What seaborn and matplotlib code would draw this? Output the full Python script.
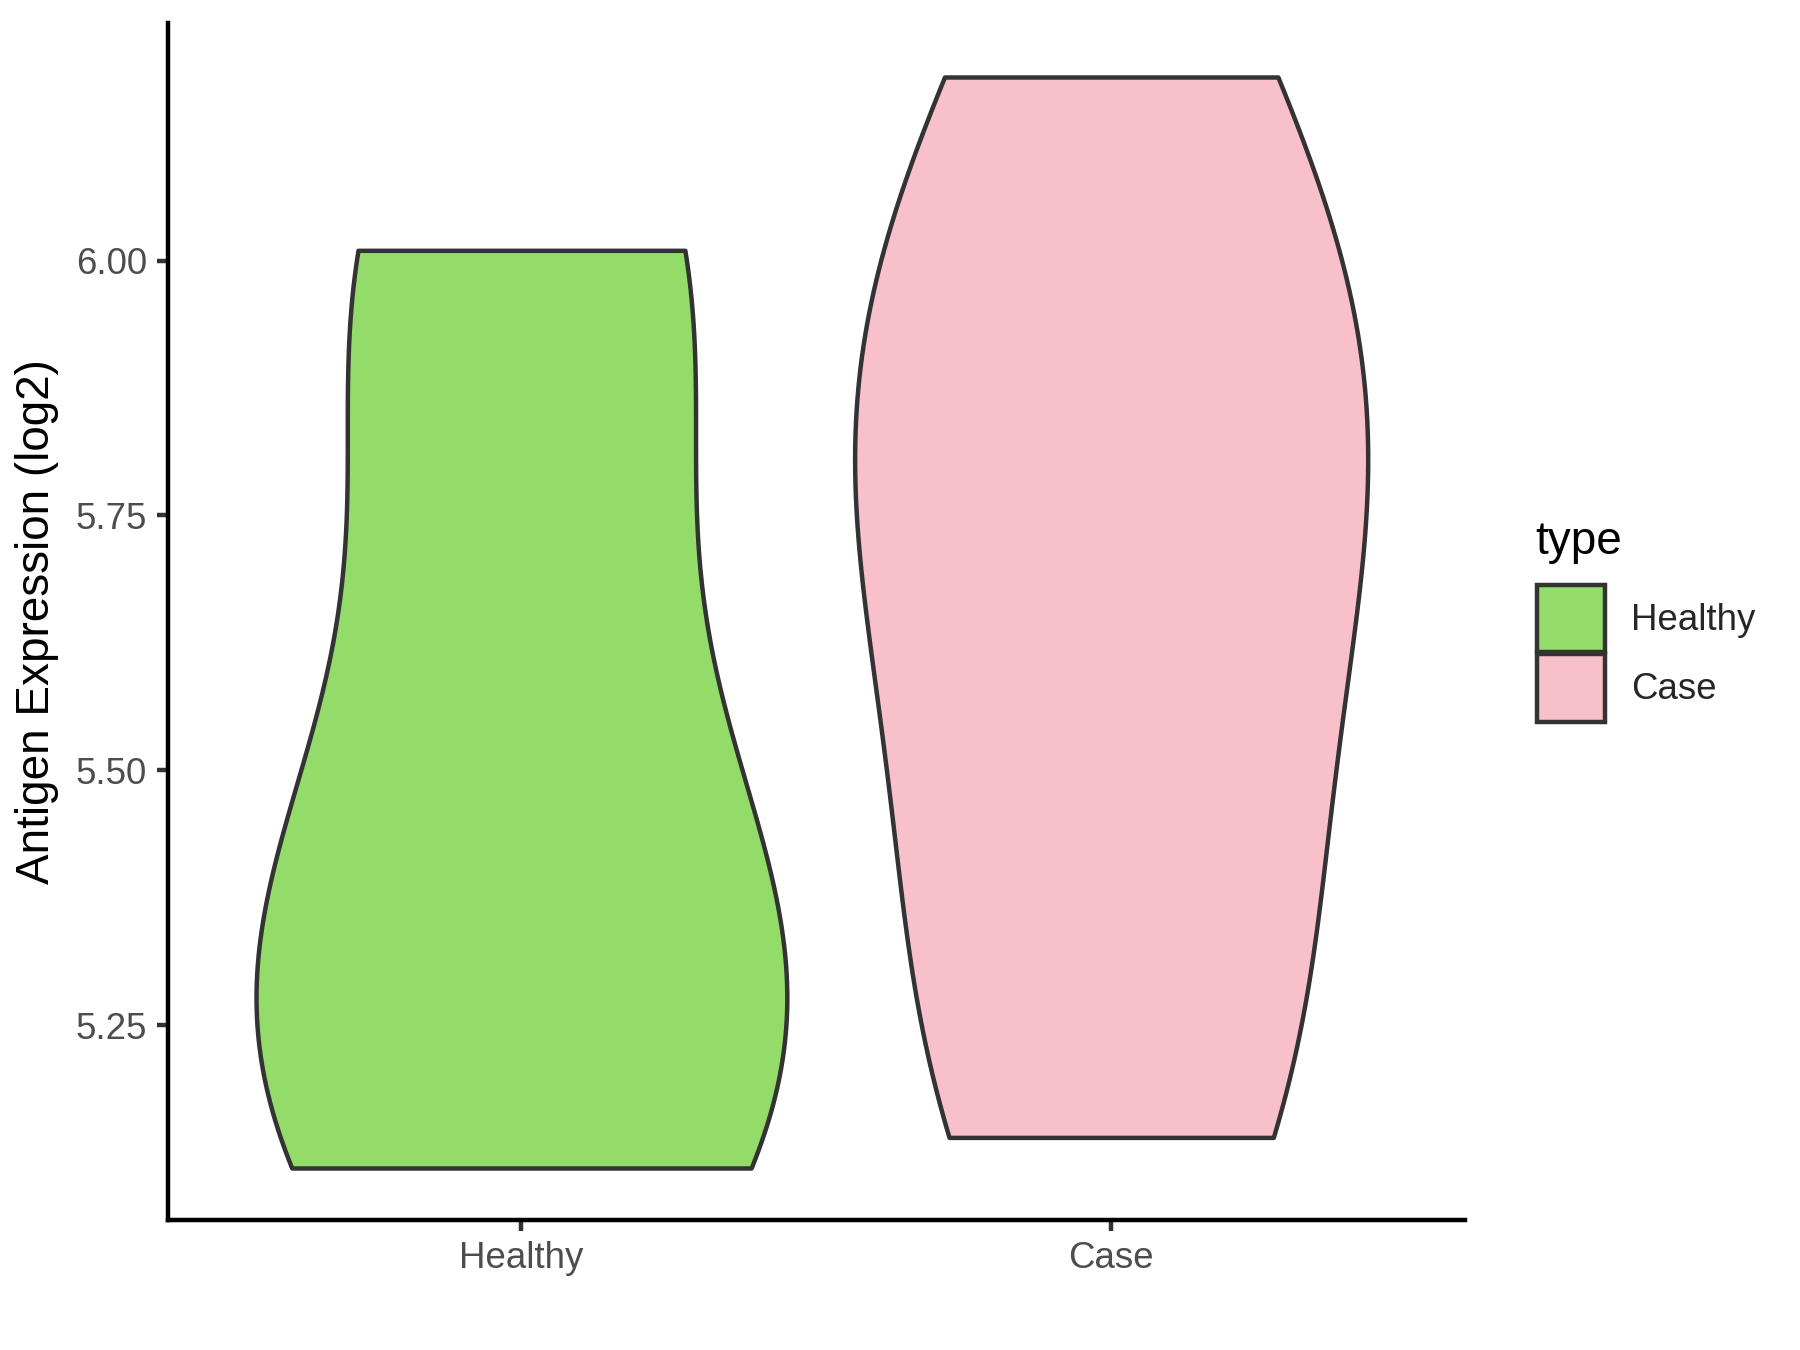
"""
Violin plot of antigen expression (log2) for Healthy vs Case samples.
"""

import matplotlib

matplotlib.use("Agg")
import matplotlib.pyplot as plt
import pandas as pd
import seaborn as sns
from matplotlib.patches import Patch

# ---------------------------------------------------------------------------
# Data
# ---------------------------------------------------------------------------
GROUPS = ["Healthy", "Case"]
HEALTHY_VALUES = [5.11, 5.20, 5.30, 5.50, 5.96, 6.01]
CASE_VALUES = [5.14, 5.31, 5.62, 5.81, 5.93, 6.18]
COLORS = ["#93DC6A", "#F7C0CB"]
Y_TICKS = [5.25, 5.50, 5.75, 6.00]

# violin widths (ggplot "area" scaling gives the two groups slightly different widths)
WIDTHS = [0.90, 0.87]

sns.set_theme(style="ticks")
plt.rcParams["font.family"] = ["Liberation Sans", "DejaVu Sans"]

df = pd.DataFrame(
    {
        "type": ["Healthy"] * len(HEALTHY_VALUES) + ["Case"] * len(CASE_VALUES),
        "value": HEALTHY_VALUES + CASE_VALUES,
    }
)

fig = plt.figure(figsize=(6, 4.5), dpi=300)
ax = fig.add_axes([0.0931, 0.0963, 0.7208, 0.8867])

for group, color, width in zip(GROUPS, COLORS, WIDTHS):
    sns.violinplot(
        data=df[df["type"] == group],
        x="type",
        y="value",
        order=GROUPS,
        color=color,
        cut=0,
        inner=None,
        width=width,
        density_norm="width",
        bw_adjust=0.95,
        linecolor="#333333",
        linewidth=1.07,
        saturation=1,
        ax=ax,
    )

ax.set_xlim(-0.6, 1.6)
ax.set_ylim(5.059, 6.233)
ax.set_yticks(Y_TICKS)
ax.set_yticklabels([f"{v:.2f}" for v in Y_TICKS])
ax.set_xlabel("")
ax.set_ylabel("Antigen Expression (log2)", fontsize=11, color="black")

for side in ["top", "right"]:
    ax.spines[side].set_visible(False)
for side in ["left", "bottom"]:
    ax.spines[side].set_color("black")
    ax.spines[side].set_linewidth(1.07)
ax.tick_params(
    axis="both",
    length=2.75,
    width=1.07,
    color="#333333",
    labelsize=8.8,
    labelcolor="#4D4D4D",
    pad=2.2,
)

# legend on the right, ggplot style (title drawn separately for spacing)
fig.text(0.853, 0.5896, "type", fontsize=11, color="black", va="baseline", ha="left")
handles = [Patch(facecolor=c, edgecolor="#333333", linewidth=1.07) for c in COLORS]
fig.legend(
    handles,
    GROUPS,
    loc="center left",
    bbox_to_anchor=(0.846, 0.516),
    frameon=False,
    fontsize=8.8,
    handlelength=1.85,
    handleheight=2.45,
    labelspacing=0.05,
    handletextpad=0.7,
    borderaxespad=0,
)

fig.savefig("out.png", dpi=300)
